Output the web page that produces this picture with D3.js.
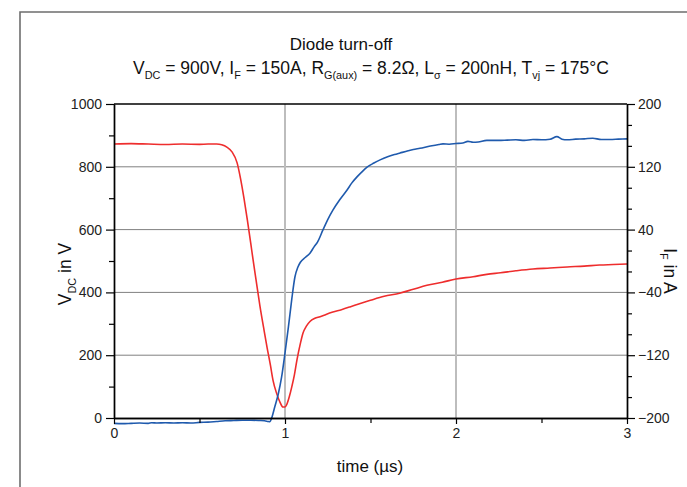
<!DOCTYPE html>
<html>
<head>
<meta charset="utf-8">
<script src="https://cdn.jsdelivr.net/npm/d3@7"></script>
<style>
  html, body { margin: 0; padding: 0; background: #fff; }
  svg { display: block; font-family: "Liberation Sans", Arial, sans-serif; }
</style>
</head>
<body>
<svg id="chart" width="687" height="487"></svg>
<script>
// Diode turn-off waveforms: blocking voltage (left axis) and forward current (right axis)
const timeTicks = [0, 1, 2, 3];
const voltTicks = [0, 200, 400, 600, 800, 1000];
const currTicks = [-200, -120, -40, 40, 120, 200];

// V_DC in V versus time in µs
const vdcTime = [0, 0.05, 0.1, 0.15, 0.2, 0.22, 0.25, 0.3, 0.35, 0.4, 0.45, 0.5, 0.55, 0.6, 0.65, 0.7, 0.75, 0.8, 0.85, 0.88, 0.9, 0.91,
  0.925, 0.94, 0.96, 0.98, 1.0, 1.02, 1.04, 1.058, 1.075, 1.09, 1.12, 1.146, 1.17, 1.19, 1.222, 1.25, 1.28, 1.32, 1.363, 1.39,
  1.421, 1.45, 1.48, 1.52, 1.556, 1.6, 1.64, 1.673, 1.72, 1.75, 1.789, 1.85, 1.9, 1.924, 1.96, 2.0, 2.04, 2.07, 2.1, 2.13, 2.18,
  2.25, 2.3, 2.35, 2.4, 2.45, 2.5, 2.55, 2.59, 2.62, 2.65, 2.7, 2.75, 2.8, 2.85, 2.9, 2.95, 3.0];
const vdcValue = [-17, -18, -17, -16, -17, -15, -16, -15, -16, -15, -16, -14, -13, -11, -9, -8, -7, -7, -8, -9, -11, -12,
  5, 35, 75, 130, 207, 290, 380, 449, 480, 496, 512, 525, 545, 560, 599, 632, 662, 695, 726, 748,
  768, 784, 799, 812, 822, 832, 839, 844, 851, 855, 859, 866, 871, 873, 872, 874, 876, 881, 878, 879, 884,
  884, 885, 886, 884, 887, 886, 888, 896, 888, 886, 888, 889, 891, 887, 887, 888, 889];

// I_F in A versus time in µs
const ifTime = [0, 0.1, 0.2, 0.3, 0.4, 0.5, 0.55, 0.6, 0.63, 0.66, 0.69, 0.72, 0.74, 0.76, 0.78, 0.8, 0.813, 0.83, 0.854, 0.875,
  0.895, 0.915, 0.93, 0.95, 0.971, 0.988, 1.0, 1.01, 1.025, 1.04, 1.055, 1.07, 1.09, 1.105, 1.125, 1.146, 1.175, 1.205, 1.24,
  1.28, 1.33, 1.38, 1.44, 1.5, 1.58, 1.67, 1.75, 1.83, 1.92, 2.0, 2.1, 2.18, 2.26, 2.35, 2.45, 2.55, 2.65, 2.75, 2.84, 2.92, 3.0];
const ifValue = [149, 149.5, 149, 148.5, 149, 148.6, 149, 149, 148, 145, 139, 125, 105, 80, 52, 22, 2, -23, -58, -85,
  -110, -133, -152, -168, -180, -186, -186, -183, -173, -160, -145, -126, -105, -92, -83, -77, -73, -71, -68,
  -65, -62, -58.5, -54, -50, -45, -41, -36, -31, -27, -23, -20, -17, -15, -12.5, -10.2, -9, -7.6, -6.5, -5.1, -4.5, -3.8];

const svg = d3.select("#chart");
const plot = { left: 114, right: 627, top: 104, bottom: 418 };

const x = d3.scaleLinear().domain([0, 3]).range([plot.left, plot.right]);
const yV = d3.scaleLinear().domain([0, 1000]).range([plot.bottom, plot.top]);
const yI = d3.scaleLinear().domain([-200, 200]).range([plot.bottom, plot.top]);

// outer frame
svg.append("path")
  .attr("d", "M20,487 L20,12 L687,12")
  .attr("fill", "none").attr("stroke", "#6e6e6e").attr("stroke-width", 1.6);

// grid
svg.append("g").selectAll("line").data([200, 400, 600, 800]).join("line")
  .attr("x1", plot.left).attr("x2", plot.right)
  .attr("y1", d => yV(d)).attr("y2", d => yV(d))
  .attr("stroke", "#808080").attr("stroke-width", 1);
svg.append("g").selectAll("line").data([1, 2]).join("line")
  .attr("x1", d => x(d)).attr("x2", d => x(d))
  .attr("y1", plot.top).attr("y2", plot.bottom)
  .attr("stroke", "#bdbdbd").attr("stroke-width", 2);

// curves
const vdcData = vdcTime.map((t, i) => [t, vdcValue[i]]);
const ifData = ifTime.map((t, i) => [t, ifValue[i]]);

svg.append("path").datum(ifData)
  .attr("fill", "none").attr("stroke", "#ee2d2d").attr("stroke-width", 1.6)
  .attr("d", d3.line().x(d => x(d[0])).y(d => yI(d[1])).curve(d3.curveMonotoneX));
svg.append("path").datum(vdcData)
  .attr("fill", "none").attr("stroke", "#1f5aad").attr("stroke-width", 1.6)
  .attr("d", d3.line().x(d => x(d[0])).y(d => yV(d[1])).curve(d3.curveMonotoneX));

// axes
const tickFont = g => g.selectAll("text").attr("font-size", 14).attr("fill", "#222")
  .attr("font-family", "'Liberation Sans', Arial, sans-serif");
const axisStyle = g => { g.select(".domain").attr("stroke", "#000").attr("stroke-width", 1.4);
  g.selectAll(".tick line").attr("stroke", "#000").attr("stroke-width", 1.2); };

// minor ticks
const minor = (axis, vals) => axis.tickValues(vals).tickFormat("").tickSize(5).tickSizeOuter(0);
svg.append("g").attr("transform", `translate(${plot.left},0)`)
  .call(minor(d3.axisLeft(yV), d3.range(100, 1000, 200))).call(axisStyle);
svg.append("g").attr("transform", `translate(${plot.right},0)`)
  .call(minor(d3.axisRight(yI), d3.range(-200, 200.1, 80 / 3).filter((v, i) => i % 3 !== 0))).call(axisStyle);
svg.append("g").attr("transform", `translate(0,${plot.bottom})`)
  .call(minor(d3.axisBottom(x), [0.5, 1.5, 2.5])).call(axisStyle);

svg.append("g").attr("transform", `translate(${plot.left},0)`)
  .call(d3.axisLeft(yV).tickValues(voltTicks).tickFormat(d3.format("d")).tickSize(8).tickSizeOuter(0).tickPadding(4))
  .call(axisStyle).call(tickFont);
svg.append("g").attr("transform", `translate(${plot.right},0)`)
  .call(d3.axisRight(yI).tickValues(currTicks).tickFormat(d3.format("d")).tickSize(8).tickSizeOuter(0).tickPadding(3))
  .call(axisStyle).call(tickFont);
svg.append("g").attr("transform", `translate(0,${plot.bottom})`)
  .call(d3.axisBottom(x).tickValues(timeTicks).tickFormat(d3.format("d")).tickSize(6).tickSizeOuter(0).tickPadding(4))
  .call(axisStyle).call(tickFont);

// top border of plot
svg.append("line").attr("x1", plot.left).attr("x2", plot.right)
  .attr("y1", plot.top).attr("y2", plot.top).attr("stroke", "#000").attr("stroke-width", 1.4);

// text with subscripts
const rich = (sel, parts, size, ratio = 0.6, drop = 0.3) => {
  const shift = size * drop;
  let lowered = false;
  parts.forEach(p => {
    const isSub = p.sub !== undefined;
    const span = sel.append("tspan").attr("font-size", isSub ? size * ratio : size).text(isSub ? p.sub : p.t);
    if (isSub && !lowered) { span.attr("dy", shift); lowered = true; }
    else if (!isSub && lowered) { span.attr("dy", -shift); lowered = false; }
  });
};

svg.append("text").attr("x", 341).attr("y", 50).attr("text-anchor", "middle")
  .attr("font-size", 17).attr("fill", "#111").text("Diode turn-off");
const sub = svg.append("text").attr("x", 371).attr("y", 74).attr("text-anchor", "middle").attr("fill", "#111");
rich(sub, [{ t: "V" }, { sub: "DC" }, { t: " = 900V, I" }, { sub: "F" }, { t: " = 150A, R" }, { sub: "G(aux)" },
  { t: " = 8.2Ω, L" }, { sub: "σ" }, { t: " = 200nH, T" }, { sub: "vj" }, { t: " = 175°C" }], 17.5, 0.62);

svg.append("text").attr("x", 370).attr("y", 472).attr("text-anchor", "middle")
  .attr("font-size", 17).attr("fill", "#111").text("time (µs)");

const yl = svg.append("text").attr("transform", "translate(71,274) rotate(-90)")
  .attr("text-anchor", "middle").attr("fill", "#111");
rich(yl, [{ t: "V" }, { sub: "DC" }, { t: " in V" }], 17.5, 0.62);

const yr = svg.append("text").attr("transform", "translate(664,271) rotate(90)")
  .attr("text-anchor", "middle").attr("fill", "#111");
rich(yr, [{ t: "I" }, { sub: "F" }, { t: " in A" }], 17.5, 0.62, 0.22);
</script>
</body>
</html>
